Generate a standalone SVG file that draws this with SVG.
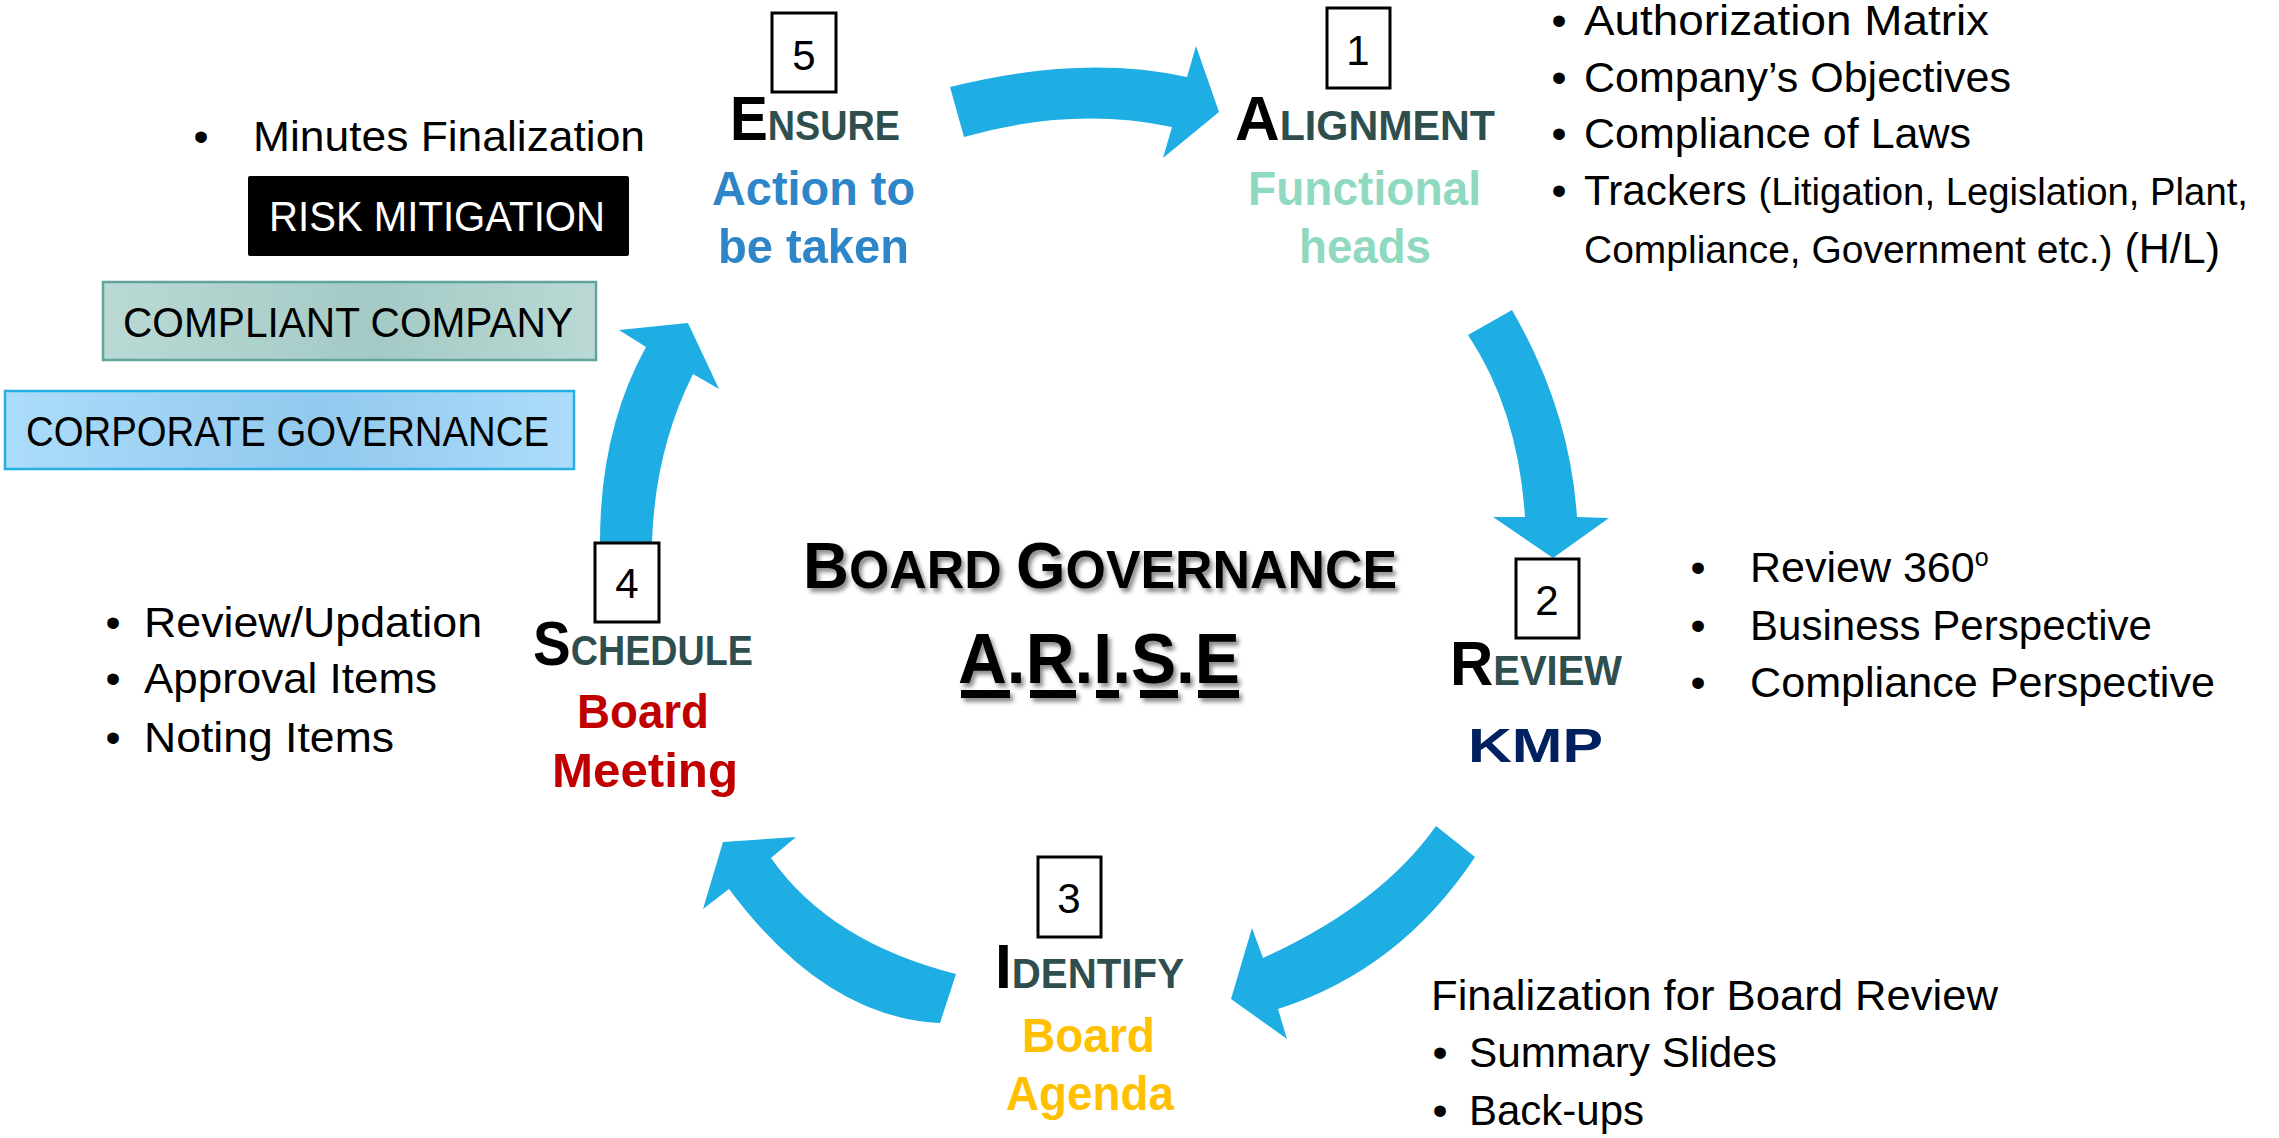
<svg xmlns="http://www.w3.org/2000/svg" width="2279" height="1138" viewBox="0 0 2279 1138">
<style>
text{font-family:"Liberation Sans",Arial,sans-serif}
.body{font-size:43px;fill:#000}
.white{fill:#fff}
.small{font-size:39px}
.head{font-weight:bold}
.big{font-size:63px;fill:#000}
.sc{font-size:42px;fill:#2F4F4F}
.sub{font-size:49px;font-weight:bold}
.num{font-size:42px;text-anchor:middle;fill:#000}
.bul{font-size:43px;text-anchor:middle;fill:#000}
.arrow{fill:#1FAEE3}
.nbox{fill:#fff;stroke:#000;stroke-width:3}
.title{font-weight:bold;fill:#000}
</style>
<defs>
<linearGradient id="gComp" x1="0" y1="0" x2="1" y2="0">
<stop offset="0" stop-color="#bad9d4"/><stop offset="0.55" stop-color="#a4cac5"/><stop offset="1" stop-color="#bad9d4"/>
</linearGradient>
<linearGradient id="gCorp" x1="0" y1="0" x2="1" y2="0">
<stop offset="0" stop-color="#abdcfa"/><stop offset="0.55" stop-color="#92c9ee"/><stop offset="1" stop-color="#abdcfa"/>
</linearGradient>
<filter id="shadow" x="-5%" y="-20%" width="110%" height="140%">
<feDropShadow dx="3" dy="4" stdDeviation="2" flood-color="#000" flood-opacity="0.45"/>
</filter>
</defs>
<rect width="2279" height="1138" fill="#fff"/>

<g id="connectors">
<path class="arrow" d="M 950 87 Q 1081 54 1187 77 L 1196 46 L 1219 112 L 1163 158 L 1172 127 Q 1072 106 964 137 Z"/>
<path class="arrow" d="M 1512 310 Q 1570 410 1577 517 L 1609 518 L 1553 558 L 1493 517 L 1525 517 Q 1518 410 1468 335 Z"/>
<path class="arrow" d="M 1475 857 Q 1400 970 1278 1009 L 1287 1039 L 1231 999 L 1252 928 L 1263 958 Q 1380 905 1436 826 Z"/>
<path class="arrow" d="M 956 974 Q 830 942 771 858 L 796 837 L 723 842 L 703 909 L 729 889 Q 825 1018 940 1023 Z"/>
<path class="arrow" d="M 600 542 Q 600 430 646 347 L 619 330 L 688 323 L 719 389 L 693 374 Q 655 450 652 542 Z"/>
</g>

<g id="node-ensure">
<rect class="nbox" x="772" y="13" width="64" height="79"/>
<text class="num" x="804" y="70">5</text>
<text class="head" x="730" y="140" textLength="170" lengthAdjust="spacingAndGlyphs"><tspan class="big">E</tspan><tspan class="sc">NSURE</tspan></text>
<text class="sub" x="712" y="205" fill="#2E86C8" textLength="203" lengthAdjust="spacingAndGlyphs">Action to</text>
<text class="sub" x="718" y="263" fill="#2E86C8" textLength="191" lengthAdjust="spacingAndGlyphs">be taken</text>
</g>

<g id="node-alignment">
<rect class="nbox" x="1327" y="8" width="63" height="80"/>
<text class="num" x="1358" y="65">1</text>
<text class="head" x="1235" y="140" textLength="260" lengthAdjust="spacingAndGlyphs"><tspan class="big">A</tspan><tspan class="sc">LIGNMENT</tspan></text>
<text class="sub" x="1248" y="205" fill="#8FD9C1" textLength="233" lengthAdjust="spacingAndGlyphs">Functional</text>
<text class="sub" x="1299" y="263" fill="#8FD9C1" textLength="132" lengthAdjust="spacingAndGlyphs">heads</text>
</g>

<g id="node-review">
<rect class="nbox" x="1516" y="559" width="63" height="79"/>
<text class="num" x="1547" y="615">2</text>
<text class="head" x="1450" y="685" textLength="172" lengthAdjust="spacingAndGlyphs"><tspan class="big">R</tspan><tspan class="sc">EVIEW</tspan></text>
<text class="sub" x="1468" y="762" fill="#002060" font-size="63" textLength="135" lengthAdjust="spacingAndGlyphs">KMP</text>
</g>

<g id="node-identify">
<rect class="nbox" x="1038" y="857" width="63" height="80"/>
<text class="num" x="1069" y="913">3</text>
<text class="head" x="995" y="988" textLength="189" lengthAdjust="spacingAndGlyphs"><tspan class="big">I</tspan><tspan class="sc">DENTIFY</tspan></text>
<text class="sub" x="1022" y="1052" fill="#FFC000" textLength="133" lengthAdjust="spacingAndGlyphs">Board</text>
<text class="sub" x="1006" y="1110" fill="#FFC000" textLength="168" lengthAdjust="spacingAndGlyphs">Agenda</text>
</g>

<g id="node-schedule">
<rect class="nbox" x="595" y="543" width="64" height="79"/>
<text class="num" x="627" y="598">4</text>
<text class="head" x="533" y="665" textLength="220" lengthAdjust="spacingAndGlyphs"><tspan class="big">S</tspan><tspan class="sc">CHEDULE</tspan></text>
<text class="sub" x="577" y="728" fill="#C00000" textLength="132" lengthAdjust="spacingAndGlyphs">Board</text>
<text class="sub" x="552" y="787" fill="#C00000" textLength="186" lengthAdjust="spacingAndGlyphs">Meeting</text>
</g>

<g id="title" filter="url(#shadow)">
<text class="title" x="803" y="588" textLength="594" lengthAdjust="spacingAndGlyphs"><tspan font-size="65">B</tspan><tspan font-size="53">OARD </tspan><tspan font-size="65">G</tspan><tspan font-size="53">OVERNANCE</tspan></text>
<text class="title" x="958" y="683" font-size="70" textLength="282" lengthAdjust="spacingAndGlyphs">A.R.I.S.E</text>
<rect x="961" y="690" width="49" height="8" fill="#000"/>
<rect x="1030" y="690" width="46" height="8" fill="#000"/>
<rect x="1096" y="690" width="23" height="8" fill="#000"/>
<rect x="1140" y="690" width="38" height="8" fill="#000"/>
<rect x="1198" y="690" width="41" height="8" fill="#000"/>
</g>

<g id="notes-ensure">
<text class="bul" x="201" y="151">•</text>
<text class="body" x="253" y="151" textLength="392" lengthAdjust="spacingAndGlyphs">Minutes Finalization</text>
<rect x="248" y="176" width="381" height="80" rx="2" fill="#000"/>
<text class="body white" x="269" y="231" textLength="336" lengthAdjust="spacingAndGlyphs">RISK MITIGATION</text>
<rect x="103" y="282" width="493" height="78" fill="url(#gComp)" stroke="#62A39C" stroke-width="2.5"/>
<text class="body" x="123" y="337" textLength="450" lengthAdjust="spacingAndGlyphs">COMPLIANT COMPANY</text>
<rect x="5" y="391" width="569" height="78" fill="url(#gCorp)" stroke="#27AEE5" stroke-width="2.5"/>
<text class="body" x="26" y="446" textLength="523" lengthAdjust="spacingAndGlyphs">CORPORATE GOVERNANCE</text>
</g>

<g id="notes-alignment">
<text class="bul" x="1559" y="35">•</text>
<text class="body" x="1584" y="35" textLength="405" lengthAdjust="spacingAndGlyphs">Authorization Matrix</text>
<text class="bul" x="1559" y="92">•</text>
<text class="body" x="1584" y="92" textLength="427" lengthAdjust="spacingAndGlyphs">Company’s Objectives</text>
<text class="bul" x="1559" y="148">•</text>
<text class="body" x="1584" y="148" textLength="387" lengthAdjust="spacingAndGlyphs">Compliance of Laws</text>
<text class="bul" x="1559" y="205">•</text>
<text class="body" x="1584" y="205" textLength="664" lengthAdjust="spacingAndGlyphs">Trackers <tspan class="small">(Litigation, Legislation, Plant,</tspan></text>
<text class="body" x="1584" y="263" textLength="636" lengthAdjust="spacingAndGlyphs"><tspan class="small">Compliance, Government etc.)</tspan> (H/L)</text>
</g>

<g id="notes-review">
<text class="bul" x="1698" y="582">•</text>
<text class="body" x="1750" y="582">Review 360<tspan font-size="25" dy="-16">o</tspan></text>
<text class="bul" x="1698" y="640">•</text>
<text class="body" x="1750" y="640" textLength="402" lengthAdjust="spacingAndGlyphs">Business Perspective</text>
<text class="bul" x="1698" y="697">•</text>
<text class="body" x="1750" y="697" textLength="465" lengthAdjust="spacingAndGlyphs">Compliance Perspective</text>
</g>

<g id="notes-schedule">
<text class="bul" x="113" y="637">•</text>
<text class="body" x="144" y="637" textLength="338" lengthAdjust="spacingAndGlyphs">Review/Updation</text>
<text class="bul" x="113" y="693">•</text>
<text class="body" x="144" y="693" textLength="293" lengthAdjust="spacingAndGlyphs">Approval Items</text>
<text class="bul" x="113" y="752">•</text>
<text class="body" x="144" y="752" textLength="250" lengthAdjust="spacingAndGlyphs">Noting Items</text>
</g>

<g id="notes-identify">
<text class="body" x="1431" y="1010" textLength="567" lengthAdjust="spacingAndGlyphs">Finalization for Board Review</text>
<text class="bul" x="1440" y="1067">•</text>
<text class="body" x="1469" y="1067" textLength="308" lengthAdjust="spacingAndGlyphs">Summary Slides</text>
<text class="bul" x="1440" y="1125">•</text>
<text class="body" x="1469" y="1125" textLength="175" lengthAdjust="spacingAndGlyphs">Back-ups</text>
</g>
</svg>
